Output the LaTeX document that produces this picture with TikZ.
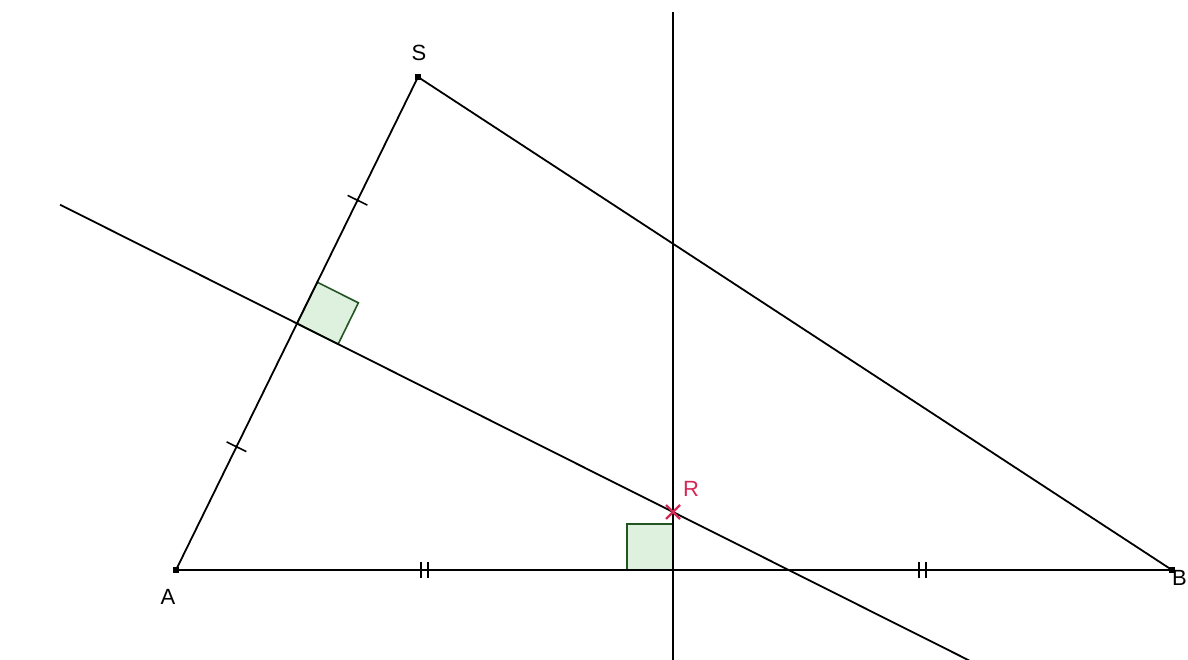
\documentclass[tikz,border=0pt]{standalone}
\usepackage{fontspec}
\setmainfont{Liberation Sans}
\usetikzlibrary{calc}
\definecolor{raRed}{RGB}{215,40,85}
\definecolor{raFill}{RGB}{222,240,222}
\definecolor{raEdge}{RGB}{35,85,35}
\begin{document}
\begin{tikzpicture}[x=1pt,y=-1pt,
  seg/.style={line width=1.8pt,black},
  lbl/.style={font=\fontsize{22}{22}\selectfont,inner sep=0pt},
  ra/.style={fill=raFill,draw=raEdge,line width=1.6pt},
  tickmark/.style={line width=1.6pt}]
\useasboundingbox (0,0) rectangle (1188,660);
\coordinate (A) at (176,570);
\coordinate (S) at (418,77);
\coordinate (B) at (1172,570);
\coordinate (H) at (673,570);
\coordinate (R) at (673,512);
\coordinate (M) at ($(A)!0.5!(S)$);
\coordinate (Vt) at (673,12);
\coordinate (Vb) at (673,662);
\coordinate (P1) at ($(M)!-0.63!(R)$);
\coordinate (P2) at ($(M)!1.79!(R)$);
% right angle marks
\coordinate (Ma) at ($(M)!46pt!(S)$);
\coordinate (Mb) at ($(M)!46pt!(R)$);
\coordinate (Mc) at ($(Ma)+(Mb)-(M)$);
\draw[ra] (M) -- (Ma) -- (Mc) -- (Mb) -- cycle;
\coordinate (Ha) at ($(H)+(-46,0)$);
\coordinate (Hb) at ($(H)+(0,-46)$);
\coordinate (Hc) at ($(H)+(-46,-46)$);
\draw[ra] (H) -- (Ha) -- (Hc) -- (Hb) -- cycle;
% lines
\draw[seg] (A) -- (S) -- (B) -- (A);
\draw[seg] (Vt) -- (Vb);
\draw[seg] (P1) -- (P2);
% single ticks on AS
\coordinate (Q1) at ($(A)!0.25!(S)$);
\coordinate (Q2) at ($(A)!0.75!(S)$);
\draw[tickmark] ($(Q1)!11pt!90:(S)$) -- ($(Q1)!11pt!-90:(S)$);
\draw[tickmark] ($(Q2)!11pt!90:(S)$) -- ($(Q2)!11pt!-90:(S)$);
% double ticks on AB
\coordinate (D1) at ($(A)!0.5!(H)$);
\coordinate (D2) at ($(H)!0.5!(B)$);
\foreach \d in {D1,D2}{
  \draw[tickmark] ($(\d)+(-3.5,-8)$) -- ($(\d)+(-3.5,8)$);
  \draw[tickmark] ($(\d)+(3.5,-8)$) -- ($(\d)+(3.5,8)$);
}
% points
\foreach \p in {A,S,B}{\fill (\p) +(-3,-3) rectangle +(3,3);}
\draw[raRed,line width=2.4pt] ($(R)+(-7,-7)$) -- ($(R)+(7,7)$);
\draw[raRed,line width=2.4pt] ($(R)+(-7,7)$) -- ($(R)+(7,-7)$);
% labels
\node[lbl] (lS) at (419,53) {S};
\node[lbl] (lA) at (168,597) {A};
\node[lbl,anchor=east] (lB) at (1187,578) {B};
\node[lbl,text=raRed] (lR) at (691,489) {R};
\end{tikzpicture}
\end{document}
